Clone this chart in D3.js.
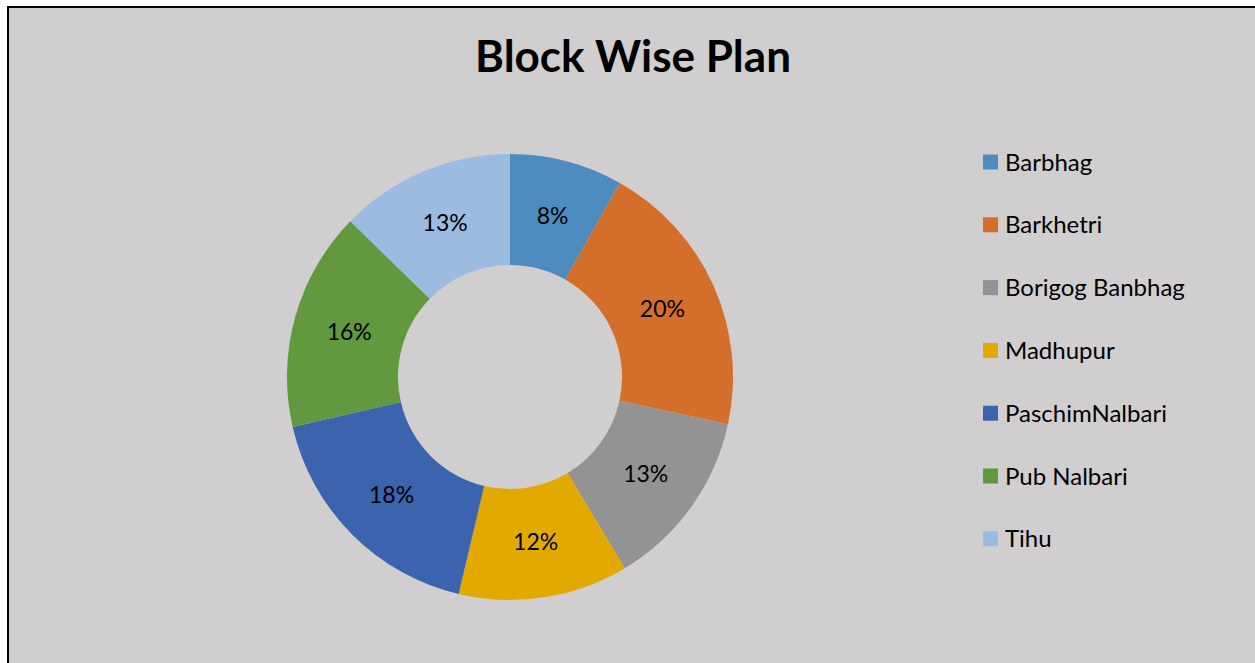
<!DOCTYPE html>
<html>
<head>
<meta charset="utf-8">
<script src="https://cdn.jsdelivr.net/npm/d3@7"></script>
<style>
  body { margin: 0; background: #fff; overflow: hidden; }
  svg { display: block; font-family: Lato, "Open Sans", sans-serif; }
</style>
</head>
<body>
<div id="chart"></div>
<script>
const blocks = ["Barbhag", "Barkhetri", "Borigog Banbhag", "Madhupur", "PaschimNalbari", "Pub Nalbari", "Tihu"];
const shares = [8.2, 20.2, 13.0, 12.3, 17.7, 15.9, 12.7];
const colors = ["#4e8bbf", "#d46e2b", "#939393", "#e2aa00", "#3c63ae", "#62993e", "#9bbbe1"];
const title = "Block Wise Plan";

const width = 1255, height = 663;
const cx = 510, cy = 377;
const outerR = 223, innerR = 112;

const data = blocks.map((b, i) => ({ name: b, value: shares[i] }));

const svg = d3.select("#chart")
  .append("svg")
  .attr("width", width)
  .attr("height", height);

// chart area; only the left and top edges of the frame are in view
svg.append("rect")
  .attr("x", 8)
  .attr("y", 7)
  .attr("width", width - 8)
  .attr("height", height - 7)
  .attr("fill", "#d0cece");

svg.append("path")
  .attr("d", "M8," + height + "V7H" + width)
  .attr("fill", "none")
  .attr("stroke", "#000")
  .attr("stroke-width", 2);

svg.append("text")
  .attr("x", 633)
  .attr("y", 72)
  .attr("text-anchor", "middle")
  .style("font-size", "44px")
  .style("font-weight", "bold")
  .attr("fill", "#000")
  .text(title);

const pie = d3.pie().value(d => d.value).sort(null);
const arc = d3.arc().innerRadius(innerR).outerRadius(outerR);
const labelArc = d3.arc().innerRadius(167).outerRadius(167);

const color = d3.scaleOrdinal().domain(blocks).range(colors);

const g = svg.append("g")
  .attr("transform", "translate(" + cx + "," + cy + ")");

const arcs = pie(data);

g.selectAll("path")
  .data(arcs)
  .enter()
  .append("path")
  .attr("d", arc)
  .attr("fill", d => color(d.data.name));

g.selectAll(".pct")
  .data(arcs)
  .enter()
  .append("text")
  .attr("class", "pct")
  .attr("transform", d => "translate(" + labelArc.centroid(d) + ")")
  .attr("text-anchor", "middle")
  .attr("dy", "0.35em")
  .style("font-size", "23px")
  .attr("fill", "#000")
  .text(d => Math.round(d.data.value) + "%");

const legend = svg.append("g")
  .attr("transform", "translate(983, 162)");

const items = legend.selectAll(".legend-item")
  .data(blocks)
  .enter()
  .append("g")
  .attr("class", "legend-item")
  .attr("transform", (d, i) => "translate(0," + (i * 62.8) + ")");

items.append("rect")
  .attr("x", 0)
  .attr("y", -7.5)
  .attr("width", 15)
  .attr("height", 15)
  .attr("fill", color);

items.append("text")
  .attr("x", 22)
  .attr("y", 0)
  .attr("dy", "0.36em")
  .style("font-size", "24px")
  .attr("fill", "#000")
  .text(d => d);
</script>
</body>
</html>
